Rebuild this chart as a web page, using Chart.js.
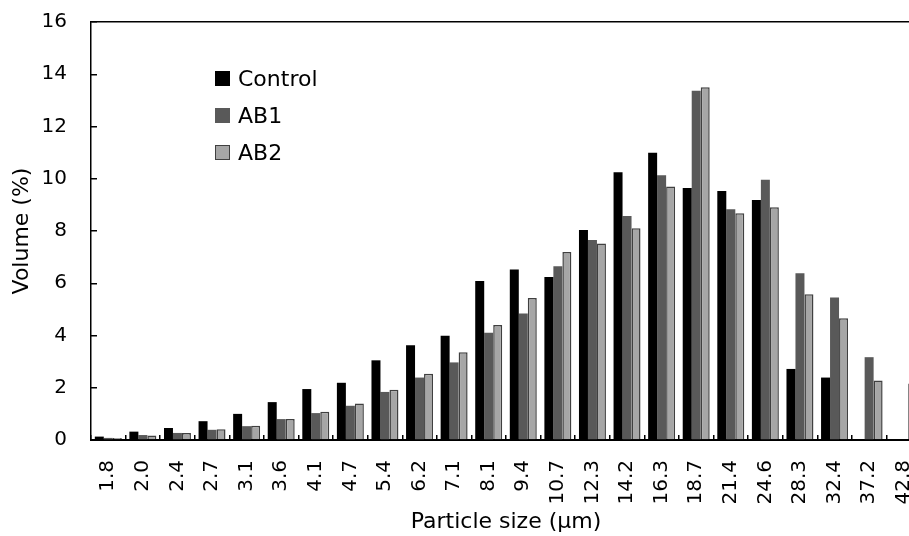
<!DOCTYPE html>
<html lang="en">
<head>
    <meta charset="UTF-8">
    <title>Particle size distribution</title>
    <script src="https://cdn.jsdelivr.net/npm/chart.js"></script>
    <style>
        html, body {
            margin: 0;
            padding: 0;
            background: #fff;
            overflow: hidden;
        }
        .container {
            position: relative;
            width: 921px;
            height: 536px;
        }
        #legend {
            position: absolute;
            left: 215px;
            top: 60px;
            font-family: "DejaVu Sans", sans-serif;
            font-size: 22px;
            color: #000;
        }
        .legend-item {
            display: flex;
            align-items: center;
            height: 37px;
        }
        .legend-box {
            width: 15px;
            height: 15px;
            box-sizing: border-box;
            margin-right: 8px;
        }
    </style>
</head>
<body>
    <div class="container">
        <canvas id="sizeChart"></canvas>
        <div id="legend"></div>
    </div>

    <script>
        // particle size classes (µm)
        const sizes = ['1.8', '2.0', '2.4', '2.7', '3.1', '3.6', '4.1', '4.7', '5.4', '6.2', '7.1', '8.1',
                       '9.4', '10.7', '12.3', '14.2', '16.3', '18.7', '21.4', '24.6', '28.3', '32.4', '37.2', '42.8'];

        // volume (%) per class
        const control = [0.13, 0.32, 0.46, 0.72, 1.00, 1.45, 1.95, 2.19, 3.05, 3.63, 3.99, 6.09,
                         6.53, 6.24, 8.04, 10.25, 11.00, 9.65, 9.53, 9.19, 2.72, 2.39, 0, 0];
        const ab1 = [0.08, 0.19, 0.27, 0.39, 0.53, 0.80, 1.03, 1.31, 1.84, 2.39, 2.97, 4.11,
                     4.84, 6.65, 7.66, 8.57, 10.13, 13.37, 8.83, 9.96, 6.38, 5.45, 3.17, 0];
        const ab2 = [0.08, 0.17, 0.27, 0.41, 0.55, 0.80, 1.08, 1.40, 1.92, 2.54, 3.36, 4.40,
                     5.44, 7.20, 7.52, 8.11, 9.70, 13.50, 8.68, 8.91, 5.58, 4.66, 2.28, 2.16];

        const seriesNames = ['Control', 'AB1', 'AB2'];
        const fillColors = ['#000000', '#595959', '#a6a6a6'];
        const edgeColors = ['#000000', '#595959', '#404040'];

        const fontFamily = '"DejaVu Sans", sans-serif';

        const datasets = [control, ab1, ab2].map((values, i) => ({
            label: seriesNames[i],
            data: values,
            backgroundColor: fillColors[i],
            borderColor: edgeColors[i],
            borderWidth: i === 2 ? 1.5 : 0,
            categoryPercentage: 0.78,
            barPercentage: 1.0
        }));

        const ctx = document.getElementById('sizeChart').getContext('2d');
        const chart = new Chart(ctx, {
            type: 'bar',
            data: {
                labels: sizes,
                datasets: datasets
            },
            options: {
                responsive: true,
                maintainAspectRatio: false,
                animation: false,
                layout: {
                    padding: { left: 0, top: 22, right: 0, bottom: 0 }
                },
                plugins: {
                    legend: { display: false },
                    tooltip: { enabled: false }
                },
                scales: {
                    x: {
                        grid: {
                            offset: true,
                            drawOnChartArea: false,
                            color: '#000',
                            tickColor: '#000',
                            tickLength: -5,
                            lineWidth: 1.5
                        },
                        border: { color: '#000', width: 2 },
                        ticks: {
                            color: '#000',
                            font: { family: fontFamily, size: 20 },
                            minRotation: 90,
                            maxRotation: 90,
                            autoSkip: false,
                            padding: 25
                        },
                        title: {
                            display: true,
                            text: 'Particle size (µm)',
                            color: '#000',
                            font: { family: fontFamily, size: 22 },
                            padding: { top: 0, bottom: 1 }
                        },
                        afterFit: scale => {
                            scale.height = 96;
                            scale.paddingLeft = 0;
                            scale.paddingRight = 0;
                        }
                    },
                    y: {
                        min: 0,
                        max: 16,
                        ticks: {
                            stepSize: 2,
                            color: '#000',
                            font: { family: fontFamily, size: 20 },
                            padding: 30
                        },
                        grid: {
                            color: c => (c.tick && c.tick.value === 16) ? '#000' : 'rgba(0,0,0,0)',
                            tickColor: '#000',
                            tickLength: -6,
                            lineWidth: 1.5
                        },
                        border: { color: '#000', width: 1.5 },
                        title: {
                            display: true,
                            text: 'Volume (%)',
                            color: '#000',
                            font: { family: fontFamily, size: 22 },
                            padding: { top: 9, bottom: 0 }
                        },
                        afterFit: scale => {
                            scale.width = 91;
                            scale.paddingTop = 0;
                            scale.paddingBottom = 0;
                        }
                    }
                }
            }
        });

        // legend drawn as html inside the plot
        const legendEl = document.getElementById('legend');
        seriesNames.forEach((name, i) => {
            const row = document.createElement('div');
            row.className = 'legend-item';
            const box = document.createElement('span');
            box.className = 'legend-box';
            box.style.background = fillColors[i];
            if (i === 2) box.style.border = '1.5px solid ' + edgeColors[i];
            row.appendChild(box);
            row.appendChild(document.createTextNode(name));
            legendEl.appendChild(row);
        });
    </script>
</body>
</html>
